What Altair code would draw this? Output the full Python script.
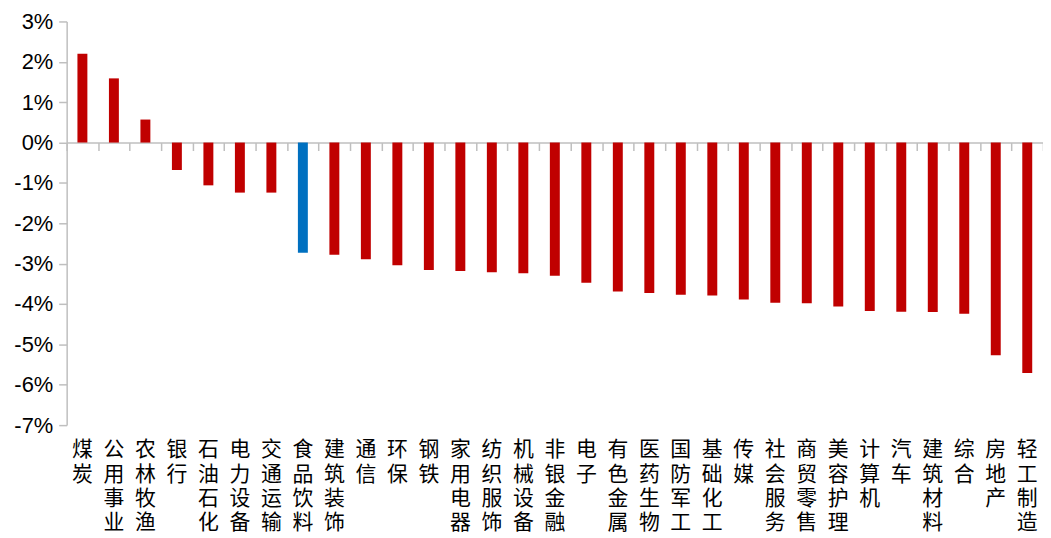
import altair as alt
import pandas as pd

categories = ["煤炭", "公用事业", "农林牧渔", "银行", "石油石化", "电力设备", "交通运输", "食品饮料",
              "建筑装饰", "通信", "环保", "钢铁", "家用电器", "纺织服饰", "机械设备", "非银金融",
              "电子", "有色金属", "医药生物", "国防军工", "基础化工", "传媒", "社会服务", "商贸零售",
              "美容护理", "计算机", "汽车", "建筑材料", "综合", "房地产", "轻工制造"]
values = [2.20, 1.59, 0.57, -0.68, -1.06, -1.24, -1.24, -2.73,
          -2.78, -2.89, -3.04, -3.16, -3.18, -3.21, -3.24, -3.30,
          -3.47, -3.69, -3.73, -3.77, -3.79, -3.89, -3.97, -3.98,
          -4.06, -4.17, -4.19, -4.20, -4.24, -5.27, -5.71]
highlight = "食品饮料"
y_ticks = [-7, -6, -5, -4, -3, -2, -1, 0, 1, 2, 3]

df = pd.DataFrame({"cat": categories, "val": values})
df["grp"] = ["hl" if c == highlight else "base" for c in categories]

W, H = 982, 406
AXIS_GRAY = "#BFBFBF"

xscale = alt.Scale(paddingInner=0, paddingOuter=0)
yscale = alt.Scale(domain=[-7, 3], nice=False, zero=False)
yaxis = alt.Axis(values=y_ticks, grid=False, domainColor=AXIS_GRAY, domainWidth=1.5,
                 tickColor=AXIS_GRAY, tickSize=8, tickWidth=1.5, labelPadding=6,
                 labelFontSize=22, labelFont="Liberation Sans", labelColor="#000000",
                 labelExpr="datum.value + '%'", orient="left")

label_layer = alt.Chart(df).mark_bar(opacity=0, size=10).encode(
    x=alt.X("cat:N", sort=categories, scale=xscale, title=None,
            axis=alt.Axis(orient="bottom", domain=False, ticks=False, tickSize=0,
                          labelAngle=0, labelBaseline="top", labelAlign="center",
                          labelPadding=14, labelFontSize=21, labelLineHeight=24.5,
                          labelFont="Noto Sans CJK SC", labelColor="#000000",
                          labelOverlap=False, labelLimit=0,
                          labelExpr="split(datum.label, '')")),
    y=alt.Y("val:Q", scale=yscale, title=None, axis=yaxis),
)

bar_layer = alt.Chart(df).mark_bar(size=10).encode(
    x=alt.X("cat:N", sort=categories, scale=xscale, title=None,
            axis=alt.Axis(orient="bottom", labels=False, domainColor=AXIS_GRAY, domainWidth=1.5,
                          tickColor=AXIS_GRAY, tickWidth=1.5, tickSize=8, tickBand="extent",
                          offset=-(H * 0.7))),
    y=alt.Y("val:Q", scale=yscale, title=None, axis=yaxis),
    color=alt.Color("grp:N", scale=alt.Scale(domain=["base", "hl"], range=["#C00000", "#0070C0"]),
                    legend=None),
)

chart = alt.layer(label_layer, bar_layer).resolve_axis(x="independent", y="shared").properties(
    width=W, height=H,
    autosize=alt.AutoSizeParams(type="none"),
    padding={"left": 59, "top": 12, "right": 0, "bottom": 112},
).configure_view(stroke=None)

chart.save("out.html", embed_options={"renderer": "svg", "actions": False})
